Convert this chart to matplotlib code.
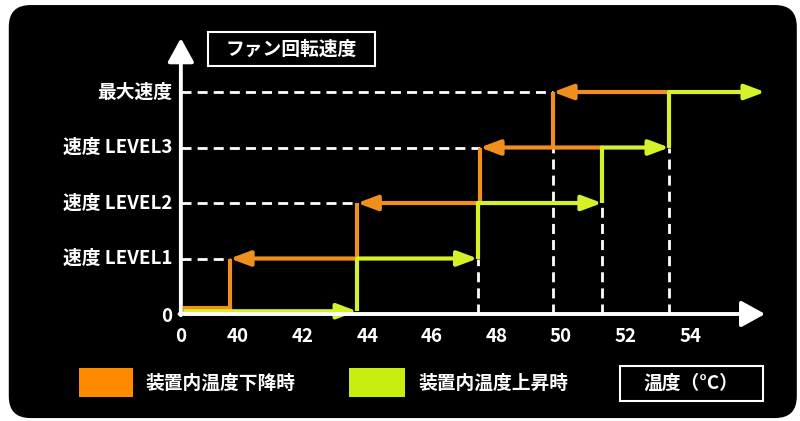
import matplotlib
matplotlib.use('Agg')
import matplotlib.pyplot as plt
from matplotlib.patches import FancyBboxPatch, Rectangle

plt.rcParams['font.family'] = ['Noto Sans CJK JP', 'DejaVu Sans']

# --- data ---
levels = [0, 1, 2, 3, 4]
level_labels = ['0', '速度 LEVEL1', '速度 LEVEL2', '速度 LEVEL3', '最大速度']
x_ticks = [40, 42, 44, 46, 48, 50, 52, 54]
x_origin = 38.23          # where the "0" of the temperature axis sits
x_end = 56.32
y_end = 4.97

# temperature where fan steps down (from level i+1 to i) when temperature falls
down_steps = [39.75, 43.69, 47.49, 49.75]
# temperature where fan steps up (from level i to i+1) when temperature rises
up_steps = [43.69, 47.42, 51.27, 53.35]
base_down = 0.11          # small offsets so both lines show on the 0 level
base_up = 0.05
line_start = 38.36

ORANGE = '#F0901C'
GREEN = '#D6F02A'
ORANGE_KEY = '#FF8A00'
GREEN_KEY = '#C8EE10'

fig = plt.figure(figsize=(8, 4.21), dpi=100)
fig.patch.set_facecolor('white')
ax = fig.add_axes([0, 0, 1, 1])
ax.set_xlim(32.63, 57.40)
ax.set_ylim(-1.928, 5.658)
ax.axis('off')

# rounded black panel
ax.add_patch(FancyBboxPatch((0.011, 0.007), 0.985, 0.981,
                            boxstyle='round,pad=0,rounding_size=0.027',
                            mutation_aspect=800 / 421,
                            transform=ax.transAxes, facecolor='black',
                            edgecolor='none', zorder=0))

dash = (0, (3.6, 2.2))
# horizontal guides from the y axis to the step-down point
for lv, xs in zip(levels[1:], down_steps):
    ax.plot([x_origin, xs], [lv, lv], color='white', lw=2, ls=dash, zorder=2)

# vertical guides from bottom of each step down to the axis
vguides = [(up_steps[1], 1), (down_steps[3], 3), (up_steps[2], 2), (up_steps[3], 3)]
for xv, lv in vguides:
    ax.plot([xv, xv], [0, lv], color='white', lw=2, ls=dash, zorder=2)

def arrow(x0, y0, x1, y1, color, lw, hl, hw, zorder=4):
    ax.annotate('', xy=(x1, y1), xytext=(x0, y0),
                arrowprops=dict(arrowstyle=f'-|>,head_length={hl},head_width={hw}',
                                color=color, lw=lw, shrinkA=0, shrinkB=0,
                                mutation_scale=10),
                zorder=zorder)

# --- falling temperature (orange) ---
for i, lv in enumerate(levels[1:]):
    arrow(up_steps[i], lv, down_steps[i], lv, ORANGE, 3, 1.2, 0.45)
    bottom = base_down if i == 0 else lv - 1
    ax.plot([down_steps[i], down_steps[i]], [lv, bottom], color=ORANGE,
            lw=3, solid_capstyle='butt', zorder=4)
ax.plot([line_start, down_steps[0]], [base_down, base_down], color=ORANGE,
        lw=3, zorder=4)

# --- rising temperature (green) ---
starts = [line_start] + up_steps
ends = up_steps + [x_end]
for i, lv in enumerate(levels):
    y = base_up if lv == 0 else lv
    arrow(starts[i], y, ends[i], y, GREEN, 3, 1.2, 0.45, zorder=5)
    if i < len(up_steps):
        ax.plot([up_steps[i], up_steps[i]], [y, lv + 1], color=GREEN,
                lw=3, solid_capstyle='butt', zorder=5)

# --- axes with arrows ---
arrow(x_origin, -0.02, x_origin, y_end, 'white', 2.8, 1.45, 0.8, zorder=6)
arrow(x_origin - 0.04, 0, x_end, 0, 'white', 2.8, 1.45, 0.8, zorder=6)

# tick labels
txt = dict(color='white', fontsize=13.5, fontweight='bold')
ax.text(x_origin, -0.40, '0', ha='center', va='center', **txt)
for xv in x_ticks:
    ax.text(xv, -0.40, str(xv), ha='center', va='center', **txt)
for lv, lab in zip(levels, level_labels):
    ax.text(37.96, lv + (-0.05 if lv == 0 else 0), lab, ha='right',
            va='center', **txt)

# title box
ax.add_patch(Rectangle((208 / 800, 1 - 66 / 421), 167 / 800, 34 / 421,
                       transform=ax.transAxes, facecolor='black',
                       edgecolor='white', lw=1.5, zorder=3))
ax.text(291 / 800, 1 - 49 / 421, 'ファン回転速度', transform=ax.transAxes,
        ha='center', va='center', **txt)

# legend
ax.add_patch(Rectangle((79 / 800, 1 - 397 / 421), 54 / 800, 29 / 421,
                       transform=ax.transAxes, facecolor=ORANGE_KEY,
                       edgecolor='none', zorder=3))
ax.text(145 / 800, 1 - 383 / 421, '装置内温度下降時', transform=ax.transAxes,
        ha='left', va='center', **txt)
ax.add_patch(Rectangle((349 / 800, 1 - 397 / 421), 56 / 800, 29 / 421,
                       transform=ax.transAxes, facecolor=GREEN_KEY,
                       edgecolor='none', zorder=3))
ax.text(418 / 800, 1 - 383 / 421, '装置内温度上昇時', transform=ax.transAxes,
        ha='left', va='center', **txt)

# x axis name box
ax.add_patch(Rectangle((620 / 800, 1 - 401 / 421), 143 / 800, 35 / 421,
                       transform=ax.transAxes, facecolor='black',
                       edgecolor='white', lw=1.5, zorder=3))
ax.text(691 / 800, 1 - 383 / 421, '温度（°C）', transform=ax.transAxes,
        ha='center', va='center', **txt)

plt.savefig('out.png', dpi=100, facecolor=fig.get_facecolor())
